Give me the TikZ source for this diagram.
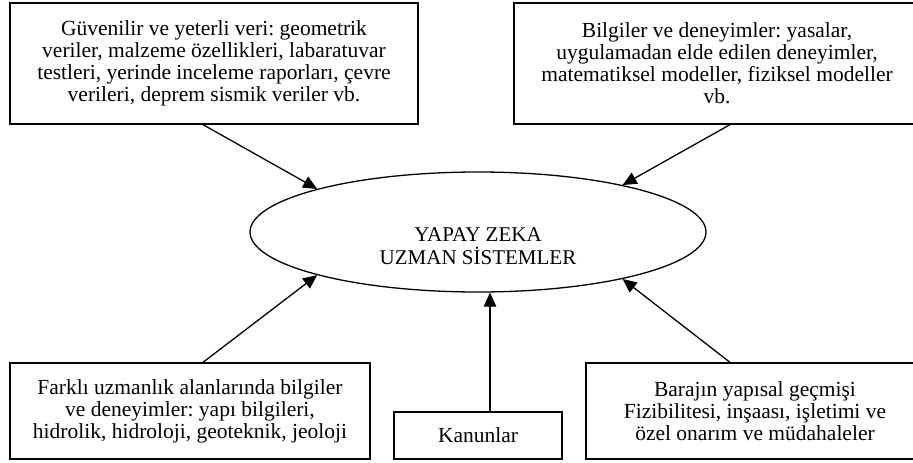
\documentclass[tikz,border=0pt]{standalone}
\usepackage{fontspec}
\newfontfamily\tnr{Liberation Serif}
\usetikzlibrary{arrows.meta,shapes.geometric}
\frenchspacing
\begin{document}
\begin{tikzpicture}[x=1pt,y=-1pt,
  box/.style={draw,line width=1.3pt,rectangle,inner sep=0pt,align=center,
    font=\tnr\frenchspacing\fontsize{21.5}{22}\selectfont},
  ellbox/.style={draw,line width=1.3pt,ellipse,inner sep=0pt,minimum width=456pt,minimum height=120pt},
  lbl/.style={align=center,inner sep=0pt,font=\tnr\fontsize{21}{23}\selectfont},
  arr/.style={line width=1.3pt,-{Triangle[length=14pt,width=12.5pt]}}]
\useasboundingbox (0,0) rectangle (913,463);
\clip (0,0) rectangle (913,463);
\fill[white] (0,0) rectangle (913,463);

\node[box,minimum width=408pt,minimum height=121pt] (tl) at (214,63.5)
  {Güvenilir ve yeterli veri: geometrik\\veriler, malzeme özellikleri, labaratuvar\\testleri, yerinde inceleme raporları, çevre\\verileri, deprem sismik veriler vb.};
\node[box,minimum width=406pt,minimum height=121pt] (tr) at (717,63.5)
  {Bilgiler ve deneyimler: yasalar,\\uygulamadan elde edilen deneyimler,\\matematiksel modeller, fiziksel modeller\\vb.};
\node[box,minimum width=360pt,minimum height=96pt] (bl) at (190,411)
  {Farklı uzmanlık alanlarında bilgiler\\ve deneyimler: yapı bilgileri,\\hidrolik, hidroloji, geoteknik, jeoloji};
\node[box,minimum width=168pt,minimum height=47pt] (kan) at (478,435.5) {Kanunlar};
\node[box,minimum width=338pt,minimum height=96pt] (br) at (755,411)
  {Barajın yapısal geçmişi\\Fizibilitesi, inşaası, işletimi ve\\özel onarım ve müdahaleler};

\node[ellbox] (ell) at (478,232) {};
\node[lbl] (elltext) at (478,246) {YAPAY ZEKA\\UZMAN SİSTEMLER};

\draw[arr] ([xshift=-11pt]tl.south) -- (ell.165);
\draw[arr] ([xshift=13pt]tr.south) -- (ell.18.6);
\draw[arr] ([xshift=13pt]bl.north) -- (ell.-165);
\draw[arr] ([xshift=12pt]kan.north) -- ([xshift=12pt]kan.north |- ell.south);
\draw[arr] ([xshift=-25pt]br.north) -- (ell.-18.6);
\end{tikzpicture}
\end{document}
